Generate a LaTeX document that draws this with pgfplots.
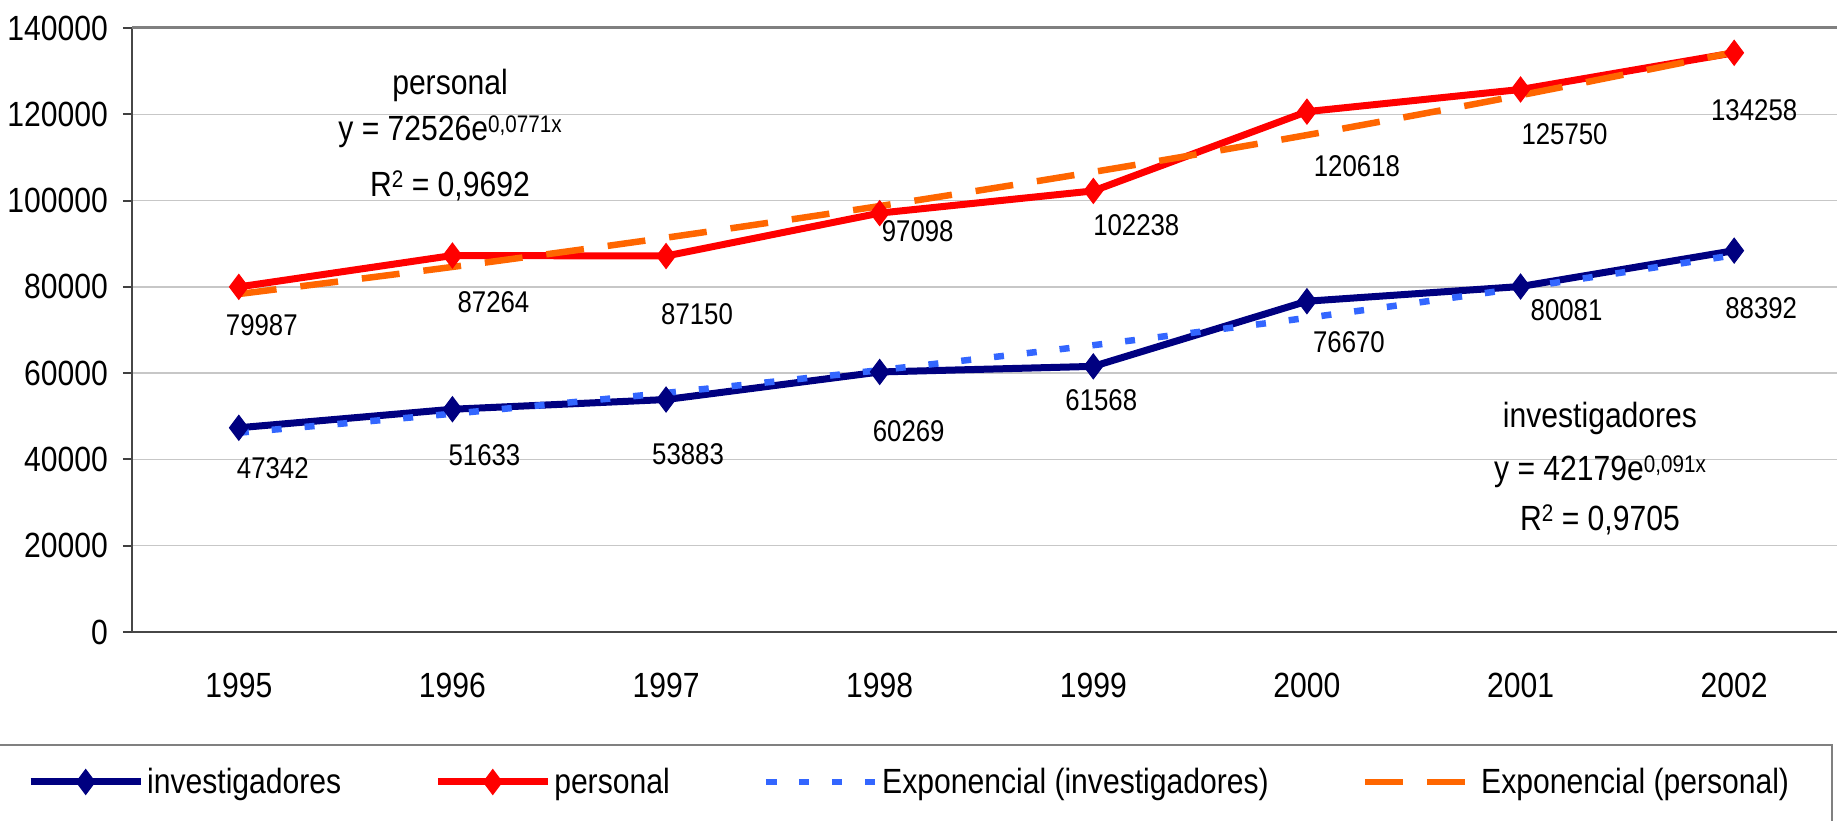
\documentclass[border=0pt]{standalone}
\usepackage{fontspec}
\setmainfont{Liberation Sans}[FakeStretch=0.86]
\usepackage{pgfplots}
\pgfplotsset{compat=1.18}
\definecolor{inv}{HTML}{000080}
\definecolor{per}{HTML}{FF0000}
\definecolor{einv}{HTML}{3366FF}
\definecolor{eper}{HTML}{FF6600}
\newcommand{\supx}[1]{\raisebox{8.5pt}{\fontsize{24}{24}\selectfont #1}}
\newcommand{\bigf}{\fontsize{35}{42}\selectfont}
\newcommand{\labf}{\fontsize{30}{36}\selectfont}
\begin{document}
\begin{tikzpicture}[x=1pt,y=1pt]
\useasboundingbox (0,0) rectangle (1837,820);
\begin{axis}[
  at={(132pt,188pt)}, anchor=south west,
  scale only axis, width=1709pt, height=604pt,
  xmin=0.5, xmax=8.5, ymin=0, ymax=140000,
  clip=false,
  xtick={1,2,3,4,5,6,7,8},
  xticklabels={1995,1996,1997,1998,1999,2000,2001,2002},
  ytick={0,20000,40000,60000,80000,100000,120000,140000},
  scaled y ticks=false,
  /pgf/number format/assume math mode=true,
  yticklabel style={/pgf/number format/fixed,/pgf/number format/1000 sep={},font=\bigf, inner sep=0pt, xshift=-15pt},
  xticklabel style={font=\bigf, inner sep=0pt, anchor=north, yshift=-32pt},
  major tick length=9pt, tick align=outside,
  xtick style={draw=none},
  ytick style={draw=black!75, line width=2pt},
  ymajorgrids,
  major grid style={draw=black!22, line width=1.5pt},
  axis x line*=bottom, axis y line*=left,
  axis line style={draw=black!72, line width=2.5pt, -},
  legend columns=4,
  legend style={at={(-0.0632,-0.2483)}, anchor=west, draw=none, fill=none,
    font=\bigf, nodes={inner xsep=3pt, inner ysep=0pt},
    /tikz/every even column/.append style={column sep=90pt}},
  legend image code/.code={\draw[mark repeat=2,mark phase=2] plot coordinates {(0pt,0pt) (55pt,0pt) (110pt,0pt)};},
]
\draw[black!50, line width=3pt] (axis cs:0.5,140000) -- (axis cs:8.6,140000);
\addplot[inv, line width=7pt, mark=diamond*, mark size=12.5pt, mark options={solid, line width=1pt}] coordinates {
 (1,47342) (2,51633) (3,53883) (4,60269) (5,61568) (6,76670) (7,80081) (8,88392)};
\addplot[per, line width=7pt, mark=diamond*, mark size=12.5pt, mark options={solid, line width=1pt}] coordinates {
 (1,79987) (2,87264) (3,87150) (4,97098) (5,102238) (6,120618) (7,125750) (8,134258)};
\addplot[einv, line width=6.5pt, dash pattern=on 10pt off 23pt, smooth] coordinates {
 (1,46197) (2,50598) (3,55419) (4,60699) (5,66482) (6,72815) (7,79752) (8,87350)};
\addplot[eper, line width=6.5pt, dash pattern=on 38pt off 24pt, smooth] coordinates {
 (1,78339) (2,84618) (3,91400) (4,98725) (5,106637) (6,115185) (7,124417) (8,134389)};
\legend{investigadores, personal, Exponencial (investigadores), Exponencial (personal)}
% data labels personal
\node[font=\labf, xshift=23pt, yshift=-38pt] at (axis cs:1,79987) {79987};
\node[font=\labf, xshift=41pt, yshift=-47pt] at (axis cs:2,87264) {87264};
\node[font=\labf, xshift=31pt, yshift=-58pt] at (axis cs:3,87150) {87150};
\node[font=\labf, xshift=38pt, yshift=-18pt] at (axis cs:4,97098) {97098};
\node[font=\labf, xshift=43pt, yshift=-34pt] at (axis cs:5,102238) {102238};
\node[font=\labf, xshift=50pt, yshift=-55pt] at (axis cs:6,120618) {120618};
\node[font=\labf, xshift=44pt, yshift=-45pt] at (axis cs:7,125750) {125750};
\node[font=\labf, xshift=20pt, yshift=-57pt] at (axis cs:8,134258) {134258};
% data labels investigadores
\node[font=\labf, xshift=34pt, yshift=-40pt] at (axis cs:1,47342) {47342};
\node[font=\labf, xshift=32pt, yshift=-46pt] at (axis cs:2,51633) {51633};
\node[font=\labf, xshift=22pt, yshift=-55pt] at (axis cs:3,53883) {53883};
\node[font=\labf, xshift=29pt, yshift=-59pt] at (axis cs:4,60269) {60269};
\node[font=\labf, xshift=8pt, yshift=-34pt] at (axis cs:5,61568) {61568};
\node[font=\labf, xshift=42pt, yshift=-41pt] at (axis cs:6,76670) {76670};
\node[font=\labf, xshift=46pt, yshift=-24pt] at (axis cs:7,80081) {80081};
\node[font=\labf, xshift=27pt, yshift=-58pt] at (axis cs:8,88392) {88392};
\end{axis}
% trend annotations
\node[font=\bigf] at (450,735) {personal};
\node[font=\bigf] at (450,688) {y = 72526e\supx{0,0771x}};
\node[font=\bigf] at (450,634) {R\supx{2} = 0,9692};
\node[font=\bigf] at (1600,402) {investigadores};
\node[font=\bigf] at (1600,348) {y = 42179e\supx{0,091x}};
\node[font=\bigf] at (1600,300) {R\supx{2} = 0,9705};
% legend frame
\draw[black!50, line width=2pt] (-5,75) -- (1832,75) -- (1832,-5);
\end{tikzpicture}
\end{document}
